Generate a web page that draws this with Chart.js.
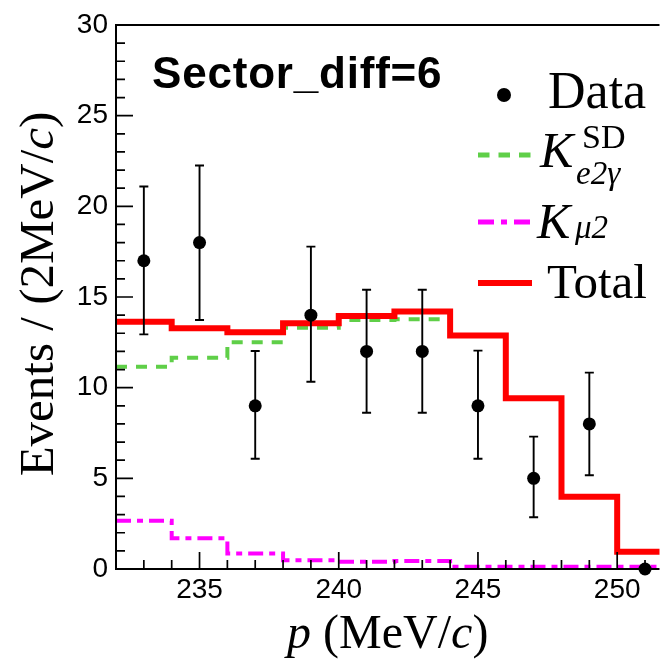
<!DOCTYPE html>
<html>
<head>
<meta charset="utf-8">
<script src="https://cdn.jsdelivr.net/npm/chart.js@4.4.0/dist/chart.umd.min.js"></script>
<style>
  html, body { margin: 0; padding: 0; background: #fff; }
</style>
</head>
<body>
<canvas id="chart" width="666" height="660"></canvas>
<script>
// === DATA (2 MeV/c bins) ===
const binEdges = [232, 234, 236, 238, 240, 242, 244, 246, 248, 250, 252];
const totalVals = [13.64, 13.27, 13.05, 13.55, 13.95, 14.2, 12.87, 9.41, 3.99, 0.95];
const ke2gVals = [11.16, 11.65, 12.5, 13.31, 13.73, 13.77];
const kmu2Vals = [2.66, 1.69, 0.85, 0.48, 0.4, 0.44, 0.12, 0.12, 0.12, 0.12];

const dataX = [233, 235, 237, 239, 241, 243, 245, 247, 249, 251];
const dataY = [17, 18, 9, 14, 12, 12, 9, 5, 8, 0];
const dataLo = [12.94, 13.73, 6.08, 10.33, 8.62, 8.62, 6.08, 2.85, 5.17, 0];
const dataHi = [21.09, 22.25, 12.02, 17.78, 15.4, 15.4, 12.04, 7.3, 10.83, 0];

const xTicks = [235, 240, 245, 250];
const yTicks = [0, 5, 10, 15, 20, 25, 30];

const SANS = '"Liberation Sans", Arial, sans-serif';
const SERIF = '"Liberation Serif", "Times New Roman", serif';

// histogram outline as step points
function steps(vals) {
  const pts = vals.map((v, i) => ({ x: binEdges[i], y: v }));
  pts.push({ x: binEdges[vals.length], y: vals[vals.length - 1] });
  return pts;
}

// draw a run of text pieces [text, font]
function pieces(ctx, x, y, list) {
  let cx = x;
  list.forEach(([t, font]) => {
    ctx.font = font;
    ctx.fillText(t, cx, y);
    cx += ctx.measureText(t).width;
  });
  return cx - x;
}
function piecesWidth(ctx, list) {
  let w = 0;
  list.forEach(([t, font]) => { ctx.font = font; w += ctx.measureText(t).width; });
  return w;
}

// === ROOT-style frame, ticks, error bars, text ===
const rootStyle = {
  id: "rootStyle",
  afterDatasetsDraw(chart) {
    const { ctx, chartArea: a, scales: { x, y } } = chart;
    ctx.save();

    // error bars
    ctx.strokeStyle = "#000";
    ctx.lineWidth = 1.9;
    dataX.forEach((xv, i) => {
      if (dataHi[i] <= dataLo[i]) return;
      const px = x.getPixelForValue(xv);
      const p1 = y.getPixelForValue(dataLo[i]);
      const p2 = y.getPixelForValue(dataHi[i]);
      ctx.beginPath();
      ctx.moveTo(px, p1); ctx.lineTo(px, p2);
      ctx.moveTo(px - 4.5, p1); ctx.lineTo(px + 4.5, p1);
      ctx.moveTo(px - 4.5, p2); ctx.lineTo(px + 4.5, p2);
      ctx.stroke();
    });

    // frame
    ctx.lineWidth = 2;
    ctx.beginPath();
    ctx.moveTo(a.right, a.top); ctx.lineTo(a.left, a.top);
    ctx.lineTo(a.left, a.bottom); ctx.lineTo(a.right, a.bottom);
    ctx.stroke();

    // ticks inside the frame
    ctx.lineWidth = 1.7;
    ctx.beginPath();
    for (let v = y.min; v <= y.max; v++) {
      const py = y.getPixelForValue(v);
      const len = yTicks.includes(v) ? 17 : 9;
      ctx.moveTo(a.left, py); ctx.lineTo(a.left + len, py);
    }
    for (let v = Math.ceil(x.min); v <= x.max; v++) {
      const px = x.getPixelForValue(v);
      const len = xTicks.includes(v) ? 17 : 9;
      ctx.moveTo(px, a.bottom); ctx.lineTo(px, a.bottom - len);
    }
    ctx.stroke();

    // label
    ctx.fillStyle = "#000";
    ctx.textBaseline = "alphabetic";
    ctx.textAlign = "left";
    ctx.font = "bold 44px " + SANS;
    ctx.letterSpacing = "0.8px";
    ctx.fillText("Sector_diff=6", 152, 88);
    ctx.letterSpacing = "0px";

    // legend
    ctx.beginPath();
    ctx.arc(504, 95, 7, 0, Math.PI * 2);
    ctx.fill();
    ctx.font = "52px " + SERIF;
    ctx.fillText("Data", 548, 108);

    ctx.lineWidth = 5;
    ctx.strokeStyle = "#5fcf48";
    ctx.setLineDash([11.5, 9]);
    ctx.beginPath(); ctx.moveTo(478, 155); ctx.lineTo(531, 155); ctx.stroke();
    ctx.font = "italic 50px " + SERIF;
    ctx.fillText("K", 540, 167);
    ctx.font = "34px " + SERIF;
    ctx.fillText("SD", 582, 148);
    ctx.font = "italic 33px " + SERIF;
    ctx.fillText("e2\u03B3", 576, 184);

    ctx.strokeStyle = "#ff00ff";
    ctx.setLineDash([16, 7, 6, 7]);
    ctx.beginPath(); ctx.moveTo(478, 222); ctx.lineTo(531, 222); ctx.stroke();
    ctx.font = "italic 50px " + SERIF;
    ctx.fillText("K", 537, 238);
    ctx.font = "italic 33px " + SERIF;
    ctx.fillText("\u03BC2", 575, 238);

    ctx.strokeStyle = "#ff0000";
    ctx.lineWidth = 6;
    ctx.setLineDash([]);
    ctx.beginPath(); ctx.moveTo(478, 283); ctx.lineTo(532, 283); ctx.stroke();
    ctx.font = "49px " + SERIF;
    ctx.fillText("Total", 547, 298);

    // axis titles
    const xt = [["p", "italic 48px " + SERIF], [" (MeV/", "48px " + SERIF], ["c", "italic 48px " + SERIF], [")", "48px " + SERIF]];
    const xw = piecesWidth(ctx, xt);
    pieces(ctx, (a.left + a.right) / 2 - xw / 2, 648, xt);

    const yt = [["Events / (2MeV/", "49px " + SERIF], ["c", "italic 49px " + SERIF], [")", "49px " + SERIF]];
    ctx.translate(53, 294);
    ctx.rotate(-Math.PI / 2);
    const yw = piecesWidth(ctx, yt);
    pieces(ctx, -yw / 2, 0, yt);

    ctx.restore();
  }
};

// === CHART ===
const ctx = document.getElementById("chart").getContext("2d");
new Chart(ctx, {
  type: "scatter",
  data: {
    datasets: [
      {
        label: "Data",
        data: dataX.map((v, i) => ({ x: v, y: dataY[i] })),
        pointRadius: 6.5,
        pointBackgroundColor: "#000",
        pointBorderWidth: 0,
        clip: false,
        order: 0
      },
      {
        type: "line",
        label: "Total",
        data: steps(totalVals),
        stepped: true,
        borderColor: "#ff0000",
        borderWidth: 6,
        pointRadius: 0,
        fill: false,
        order: 1
      },
      {
        type: "line",
        label: "Ke2g SD",
        data: steps(ke2gVals),
        stepped: true,
        borderColor: "#5fcf48",
        borderWidth: 4,
        borderDash: [11, 9],
        pointRadius: 0,
        fill: false,
        order: 2
      },
      {
        type: "line",
        label: "Kmu2",
        data: steps(kmu2Vals),
        stepped: true,
        borderColor: "#ff00ff",
        borderWidth: 4,
        borderDash: [15, 6, 6, 6],
        pointRadius: 0,
        fill: false,
        order: 3
      }
    ]
  },
  options: {
    responsive: false,
    animation: false,
    layout: { padding: { top: 25, right: 0, left: 0, bottom: 0 } },
    plugins: { legend: { display: false }, tooltip: { enabled: false } },
    scales: {
      x: {
        type: "linear",
        min: 232,
        max: 251.52,
        afterFit: s => { s.height = 91; },
        afterBuildTicks: s => { s.ticks = xTicks.map(v => ({ value: v })); },
        grid: { display: false, drawTicks: false },
        border: { display: false },
        ticks: { color: "#000", font: { family: SANS, size: 28 }, padding: 4, maxRotation: 0 }
      },
      y: {
        min: 0,
        max: 30,
        afterFit: s => { s.width = 116; },
        afterBuildTicks: s => { s.ticks = yTicks.map(v => ({ value: v })); },
        grid: { display: false, drawTicks: false },
        border: { display: false },
        ticks: { color: "#000", font: { family: SANS, size: 28 }, padding: 8 }
      }
    }
  },
  plugins: [rootStyle]
});
</script>
</body>
</html>
